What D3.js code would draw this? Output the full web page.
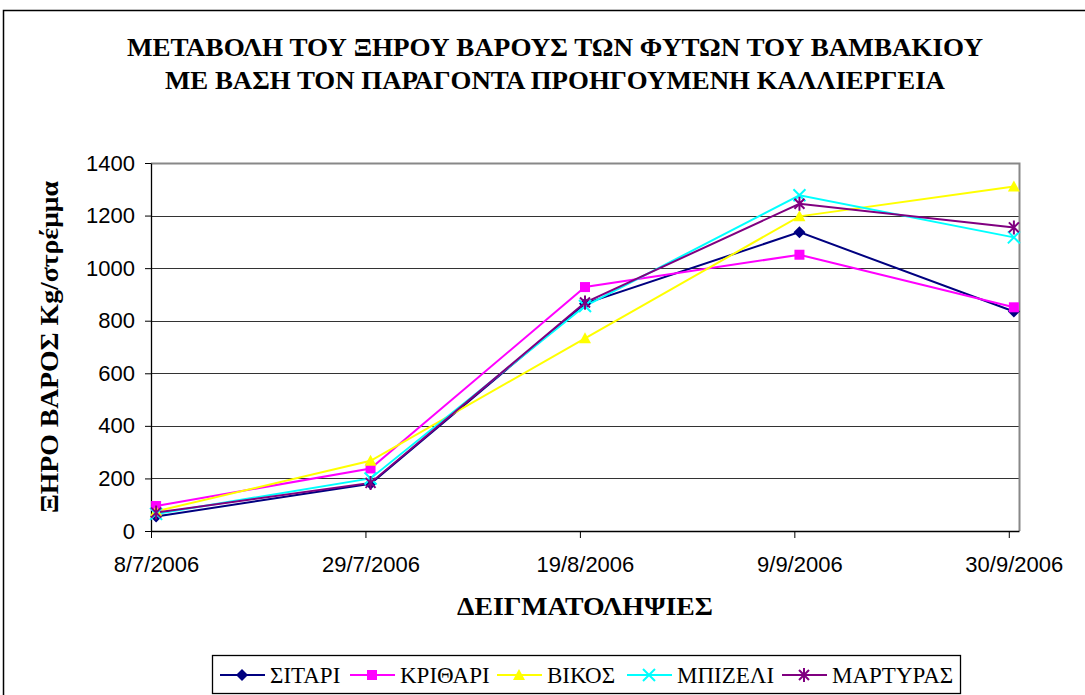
<!DOCTYPE html>
<html>
<head>
<meta charset="utf-8">
<script src="https://cdn.jsdelivr.net/npm/d3@7"></script>
<style>
  body { margin: 0; background: #fff; }
  svg { display: block; }
</style>
</head>
<body>
<div id="content"></div>
<script>
// sampling dates (dd/mm/yyyy) and dry weight per series, kg/stremma
const dates = ["8/7/2006", "29/7/2006", "19/8/2006", "9/9/2006", "30/9/2006"];
const seriesNames = ["ΣΙΤΑΡΙ", "ΚΡΙΘΑΡΙ", "ΒΙΚΟΣ", "ΜΠΙΖΕΛΙ", "ΜΑΡΤΥΡΑΣ"];
const sitari   = [55, 180, 865, 1137, 835];
const krithari = [95, 238, 928, 1051, 851];
const vikos    = [75, 267, 733, 1197, 1311];
const mpizeli  = [65, 200, 856, 1277, 1117];
const martyras = [70, 183, 869, 1245, 1155];
const yTicks = [0, 200, 400, 600, 800, 1000, 1200, 1400];

const colors = ["#000080", "#ff00ff", "#ffff00", "#00ffff", "#800080"];
const markers = ["diamond", "square", "triangle", "x", "star"];
const values = [sitari, krithari, vikos, mpizeli, martyras];

const parse = d3.timeParse("%d/%m/%Y");
const dayMs = 864e5;
const dateObjs = dates.map(parse);

const W = 1085, H = 695;
const plot = {left: 151, right: 1019, top: 163, bottom: 531};
const serif = "'Liberation Serif', 'Times New Roman', serif";
const sans = "'Liberation Sans', Arial, sans-serif";

const svg = d3.select("#content").append("svg")
    .attr("width", W)
    .attr("height", H);

// outer chart border
svg.append("rect")
    .attr("x", 3.5).attr("y", 10.5)
    .attr("width", 1100).attr("height", 700)
    .attr("fill", "none").attr("stroke", "#000").attr("stroke-width", 1.5);

// date axis: one slot per day, points in middle of slot
const x = d3.scaleTime()
    .domain([dateObjs[0], new Date(+dateObjs[4] + dayMs)])
    .range([plot.left, plot.right]);
const y = d3.scaleLinear()
    .domain([0, 1400])
    .range([plot.bottom, plot.top]);
const px = d => x(new Date(+d + dayMs / 2));

// title
const title = svg.append("text")
    .attr("text-anchor", "middle")
    .style("font-family", serif)
    .style("font-weight", "bold")
    .style("font-size", "25px");
title.append("tspan").attr("x", 555).attr("y", 56)
    .attr("textLength", 856).attr("lengthAdjust", "spacingAndGlyphs")
    .text("ΜΕΤΑΒΟΛΗ ΤΟΥ ΞΗΡΟΥ ΒΑΡΟΥΣ ΤΩΝ ΦΥΤΩΝ ΤΟΥ ΒΑΜΒΑΚΙΟΥ");
title.append("tspan").attr("x", 555).attr("y", 89)
    .attr("textLength", 780).attr("lengthAdjust", "spacingAndGlyphs")
    .text("ΜΕ ΒΑΣΗ ΤΟΝ ΠΑΡΑΓΟΝΤΑ ΠΡΟΗΓΟΥΜΕΝΗ ΚΑΛΛΙΕΡΓΕΙΑ");

// gridlines
svg.append("g").selectAll("line")
    .data(yTicks.slice(1, -1))
    .enter().append("line")
    .attr("x1", plot.left).attr("x2", plot.right)
    .attr("y1", d => Math.round(y(d)) + 0.5).attr("y2", d => Math.round(y(d)) + 0.5)
    .attr("stroke", "#333").attr("stroke-width", 1.2);

// plot area border (top / right grey)
svg.append("path")
    .attr("d", `M${plot.left},${plot.top + 0.5}H${plot.right + 0.5}V${plot.bottom}`)
    .attr("fill", "none").attr("stroke", "#888").attr("stroke-width", 2);

// y axis
const yAxis = svg.append("g")
    .attr("transform", `translate(${plot.left},0)`)
    .call(d3.axisLeft(y).tickValues(yTicks).tickFormat(d3.format("d"))
        .tickSize(6).tickSizeOuter(0).tickPadding(10));
yAxis.select(".domain").attr("stroke", "#000").attr("stroke-width", 1.3);
yAxis.selectAll(".tick line").attr("stroke", "#000");
yAxis.selectAll("text")
    .style("font-family", sans)
    .style("font-size", "22px").attr("fill", "#000");

// x axis
const xAxis = svg.append("g")
    .attr("transform", `translate(0,${plot.bottom})`)
    .call(d3.axisBottom(x).tickValues(dateObjs).tickSize(7).tickSizeOuter(0).tickPadding(18)
        .tickFormat((d, i) => dates[i]));
xAxis.select(".domain").attr("stroke", "#000").attr("stroke-width", 1.3);
xAxis.selectAll(".tick line").attr("stroke", "#000");
xAxis.selectAll("text")
    .style("font-family", sans)
    .style("font-size", "22px").attr("fill", "#000");
// ticks sit at slot boundaries; labels centred over points
xAxis.selectAll(".tick text").attr("x", 5);

// axis titles
svg.append("text")
    .attr("transform", `translate(58,${(plot.top + plot.bottom) / 2}) rotate(-90)`)
    .attr("text-anchor", "middle")
    .style("font-family", serif)
    .style("font-weight", "bold").style("font-size", "25px")
    .attr("textLength", 332).attr("lengthAdjust", "spacingAndGlyphs")
    .text("ΞΗΡΟ ΒΑΡΟΣ  Kg/στρέμμα");

svg.append("text")
    .attr("x", 585).attr("y", 615)
    .attr("text-anchor", "middle")
    .style("font-family", serif)
    .style("font-weight", "bold").style("font-size", "25px")
    .attr("textLength", 256).attr("lengthAdjust", "spacingAndGlyphs")
    .text("ΔΕΙΓΜΑΤΟΛΗΨΙΕΣ");

function drawMarker(g, type, color, cx, cy) {
  if (type === "diamond") {
    g.append("path").attr("d", `M${cx},${cy - 6}L${cx + 6},${cy}L${cx},${cy + 6}L${cx - 6},${cy}Z`)
      .attr("fill", color);
  } else if (type === "square") {
    g.append("rect").attr("x", cx - 5).attr("y", cy - 5).attr("width", 10).attr("height", 10)
      .attr("fill", color);
  } else if (type === "triangle") {
    g.append("path").attr("d", `M${cx},${cy - 6}L${cx + 6},${cy + 5}L${cx - 6},${cy + 5}Z`)
      .attr("fill", color);
  } else if (type === "x") {
    g.append("path").attr("d", `M${cx - 6},${cy - 6}L${cx + 6},${cy + 6}M${cx + 6},${cy - 6}L${cx - 6},${cy + 6}`)
      .attr("stroke", color).attr("stroke-width", 2);
  } else {
    g.append("path").attr("d", `M${cx - 5},${cy - 5}L${cx + 5},${cy + 5}M${cx + 5},${cy - 5}L${cx - 5},${cy + 5}M${cx},${cy - 7}V${cy + 7}`)
      .attr("stroke", color).attr("stroke-width", 2);
  }
}

// series lines + markers
const line = d3.line().x((d, i) => px(dateObjs[i])).y(d => y(d));
const seriesG = svg.append("g");
values.forEach((vals, s) => {
  seriesG.append("path")
    .datum(vals)
    .attr("d", line)
    .attr("fill", "none")
    .attr("stroke", colors[s])
    .attr("stroke-width", 2);
});
values.forEach((vals, s) => {
  const g = seriesG.append("g");
  vals.forEach((v, i) => drawMarker(g, markers[s], colors[s], px(dateObjs[i]), y(v)));
});

// legend
const legend = svg.append("g");
legend.append("rect")
    .attr("x", 212.5).attr("y", 655.5).attr("width", 748).attr("height", 38)
    .attr("fill", "#fff").attr("stroke", "#000").attr("stroke-width", 1.3);
const legendX = [220, 350, 497, 627, 782];
seriesNames.forEach((name, s) => {
  const lx = legendX[s], ly = 675;
  legend.append("line")
    .attr("x1", lx).attr("x2", lx + 45).attr("y1", ly).attr("y2", ly)
    .attr("stroke", colors[s]).attr("stroke-width", 2);
  drawMarker(legend, markers[s], colors[s], lx + 22, ly);
  legend.append("text")
    .attr("x", lx + 50).attr("y", ly + 8)
    .style("font-family", serif)
    .style("font-size", "23px")
    .text(name);
});
</script>
</body>
</html>
